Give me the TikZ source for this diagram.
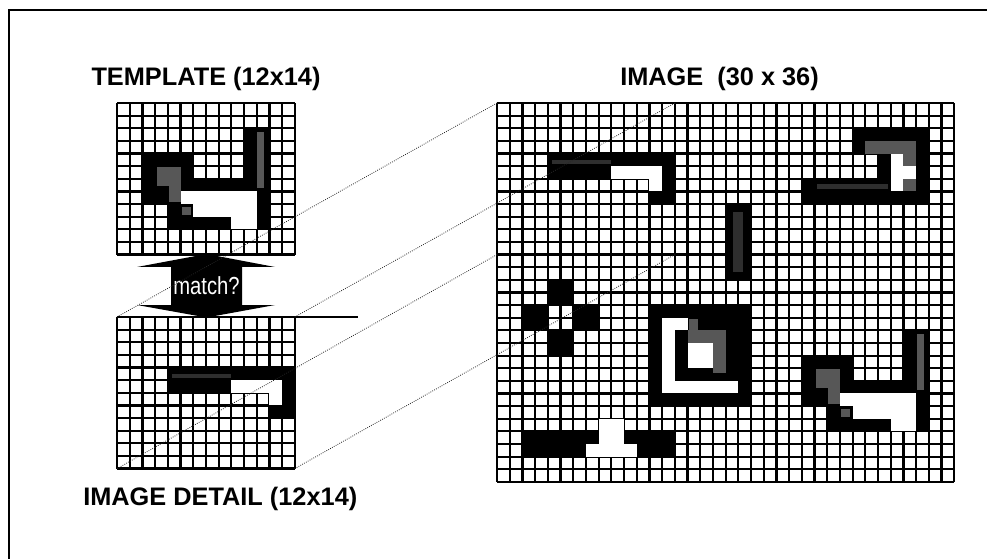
\documentclass[tikz,border=0pt]{standalone}
\usepackage{fontspec}
\setmainfont{Liberation Sans}
\newfontfamily\narrowfont{Liberation Sans}[FakeStretch=0.82]
\begin{document}
\begin{tikzpicture}[x=0.75pt,y=-0.75pt,
  gl/.style={line width=1.65pt,black},
  dither/.style={fill=black!66},
  faint/.style={fill=black!82},
  conn/.style={densely dotted,line width=0.6pt,black!85},
  titletext/.style={font=\fontsize{19}{23}\selectfont\bfseries,inner sep=0pt},
  arrowtext/.style={font=\narrowfont\fontsize{18.5}{22}\selectfont,text=white,inner sep=0pt}]
\newcommand{\cellgrid}[2]{%
  \fill[white] (0,0) rectangle (#1,#2);
  \foreach \c in {0,...,#1} \draw[gl] (\c,0) -- (\c,#2);
  \foreach \r in {0,...,#2} \draw[gl] (0,\r) -- (#1,\r);}
\newcommand{\gbk}[4]{\fill[black] (#1,#2) rectangle ({#3+1},{#4+1});}
\newcommand{\gwh}[4]{\fill[white] (#1,#2) rectangle ({#3+1},{#4+1});}
\newcommand{\ggy}[4]{\fill[dither] (#1,#2) rectangle (#3,#4);}
\newcommand{\gfa}[4]{\fill[faint] (#1,#2) rectangle (#3,#4);}
\newcommand{\tmplshape}{%
  \gbk{10}{2}{11}{6}\gbk{11}{7}{11}{9}\gbk{2}{4}{5}{5}\gbk{2}{6}{11}{6}%
  \gbk{2}{7}{4}{7}\gbk{4}{8}{5}{8}\gbk{4}{9}{8}{9}%
  \ggy{11.05}{2.3}{11.6}{6.7}\ggy{3.15}{5.05}{5.0}{6.6}%
  \ggy{4.1}{6.6}{5.0}{7.8}\ggy{5.1}{8.2}{5.8}{8.85}%
  \gwh{5}{7}{10}{7}\gwh{6}{8}{10}{8}\gwh{9}{9}{10}{9}}
\newcommand{\hookshape}{%
  \gbk{4}{4}{13}{4}\gbk{4}{5}{8}{5}\gbk{13}{5}{13}{6}\gbk{12}{7}{13}{7}%
  \gfa{4.3}{4.55}{9.0}{4.8}%
  \gwh{9}{5}{12}{5}\gwh{12}{6}{12}{6}}
\useasboundingbox (0,0) rectangle (987,559);
\fill[white] (0,0) rectangle (987,559);
\draw[line width=1.5pt] (9,559) -- (9,10) -- (987,10);
% template
\begin{scope}[shift={(117,103)},x=9.525pt,y=-9.4725pt]
  \cellgrid{14}{12}
  \tmplshape
\end{scope}
% image detail
\begin{scope}[shift={(117,317)},x=9.525pt,y=-9.4725pt]
  \cellgrid{14}{12}
  \hookshape
\end{scope}
% big image
\begin{scope}[shift={(497,103)},x=9.525pt,y=-9.4725pt]
  \cellgrid{36}{30}
  \hookshape
  % vertical bar
  \gbk{18}{8}{19}{13}\gfa{18.55}{8.6}{19.4}{13.4}
  % top right shape
  \gbk{28}{2}{33}{3}\gbk{30}{4}{33}{5}\gbk{24}{6}{33}{7}
  \ggy{29}{3}{33}{4}\ggy{32}{4}{33}{7}\gfa{25.2}{6.4}{30.8}{6.8}
  \gwh{31}{4}{31}{6}\gwh{32}{5}{32}{5}
  % cross
  \gbk{4}{14}{5}{15}\gbk{2}{16}{3}{17}\gbk{6}{16}{7}{17}\gbk{4}{18}{5}{19}
  % concentric square
  \gbk{12}{16}{19}{23}
  \ggy{15.1}{17.1}{15.8}{18}\ggy{15}{18}{18}{19}\ggy{17}{19}{18}{21.4}
  \gwh{13}{17}{14}{17}\gwh{13}{18}{13}{22}\gwh{13}{22}{18}{22}
  \gwh{15}{19}{16}{20}
  % bottom bar
  \gbk{2}{26}{13}{27}
  \gwh{8}{25}{9}{26}\gwh{7}{27}{10}{27}
  % template copy
  \begin{scope}[shift={(22,16)}]
    \tmplshape
  \end{scope}
\end{scope}
% match arrow
\fill[black] (206.5,254) -- (275,267) -- (242,267) -- (242,305) -- (275,305)
  -- (206.5,317.5) -- (137,305) -- (171,305) -- (171,267) -- (137,267) -- cycle;
\node[arrowtext] (match) at (206.5,286) {match?};
% titles
\node[titletext,anchor=base] (ttpl) at (206,86) {TEMPLATE (12x14)};
\node[titletext,anchor=base west] (timg) at (620,86) {IMAGE\ \ (30 x 36)};
\node[titletext,anchor=base west] (tdet) at (83,505) {IMAGE DETAIL (12x14)};
% connectors
\coordinate (dTL) at (117,317);
\coordinate (dTR) at (294.8,317);
\coordinate (dBL) at (117,468.6);
\coordinate (dBR) at (294.8,468.6);
\coordinate (dEX) at (358,317);
\coordinate (rTL) at (497,103);
\coordinate (rTR) at (674.8,103);
\coordinate (rBL) at (497,254.6);
\coordinate (rBR) at (674.8,254.6);
\draw[line width=1.2pt] (dTR) -- (dEX);
\draw[conn] (dTL) -- (rTL);
\draw[conn] (dTR) -- (rTR);
\draw[conn] (dBL) -- (rBL);
\draw[conn] (dBR) -- (rBR);
\end{tikzpicture}
\end{document}
